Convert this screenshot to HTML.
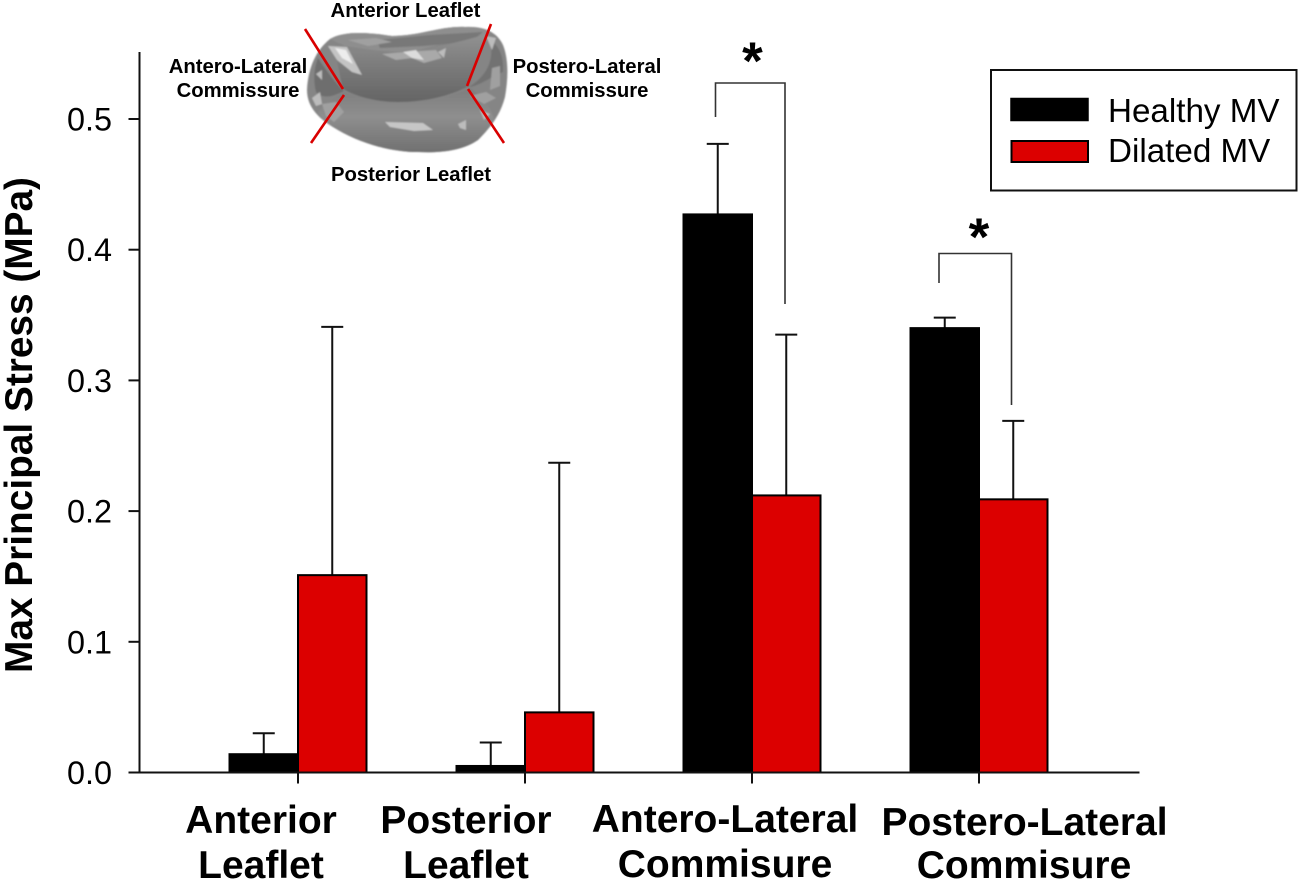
<!DOCTYPE html>
<html lang="en">
<head>
<meta charset="utf-8">
<title>Max Principal Stress by Mitral Valve Region</title>
<style>
  html, body { margin: 0; padding: 0; background: #fff; }
  svg { display: block; font-family: "Liberation Sans", Arial, sans-serif; }
  .cat { font-size: 39px; font-weight: bold; text-anchor: middle; fill: #000; }
  .inset { font-size: 20.3px; font-weight: bold; text-anchor: middle; fill: #000; }
  .legend-text { font-size: 33.2px; fill: #000; }
</style>
</head>
<body>
<svg id="chart" xmlns="http://www.w3.org/2000/svg" width="1306" height="883" viewBox="0 0 1306 883">
  <defs>
    <filter id="soft" x="-5%" y="-5%" width="110%" height="110%"><feGaussianBlur stdDeviation="0.8"/></filter>
    <linearGradient id="bowl" x1="0" y1="0" x2="0" y2="1">
      <stop offset="0" stop-color="#929292"/><stop offset="0.5" stop-color="#7a7a7a"/><stop offset="1" stop-color="#646464"/>
    </linearGradient>
    <linearGradient id="lower" x1="0" y1="0" x2="0" y2="1">
      <stop offset="0" stop-color="#7d7d7d"/><stop offset="0.45" stop-color="#8e8e8e"/><stop offset="1" stop-color="#707070"/>
    </linearGradient>
  </defs>

  <rect width="1306" height="883" fill="#fff"/>

  <g id="plot"></g>

  <text transform="translate(32,425) rotate(-90)" text-anchor="middle" font-size="38.8" font-weight="bold">Max Principal Stress (MPa)</text>

  <g>
    <text class="cat"><tspan x="261" y="833">Anterior</tspan><tspan x="261" y="878">Leaflet</tspan></text>
    <text class="cat"><tspan x="466" y="833">Posterior</tspan><tspan x="466" y="878">Leaflet</tspan></text>
    <text class="cat"><tspan x="725" y="832">Antero-Lateral</tspan><tspan x="725" y="877">Commisure</tspan></text>
    <text class="cat"><tspan x="1024.5" y="835">Postero-Lateral</tspan><tspan x="1024" y="878">Commisure</tspan></text>
  </g>

  <g>
    <g filter="url(#soft)">
      <path fill="#858585" d="M307 90 C308 68 316 50 330 39 C345 30 372 33 392 36 C420 36 440 26 465 27 C484 26 497 32 503 45 C509 60 508 80 505 97 C500 116 490 128 478 140 C462 151 440 153 418 152 C392 152 362 144 338 130 C320 120 307 108 307 90 Z"/>
      <path fill="#8e8e8e" d="M330 39 C345 30 372 33 392 36 C420 36 440 26 465 27 C478 27 486 29 491 34 C470 36 440 44 420 50 C395 54 370 50 345 46 Z"/>
      <path fill="#787878" d="M377 40 L430 35 L483 32 L470 42 L423 46 L380 48 Z"/>
      <path fill="url(#bowl)" d="M334 50 C360 50 395 56 420 50 C440 46 470 40 488 33 C480 50 474 68 469 86 C450 96 425 102 398 102 C375 102 355 96 343 89 C340 76 338 64 334 50 Z"/>
      <path fill="url(#lower)" d="M345 92 C360 98 380 103 400 103 C425 103 450 97 470 88 C482 96 492 108 494 120 C488 128 484 134 478 140 C462 151 440 153 418 152 C392 152 362 144 338 130 C328 124 320 118 318 112 C326 102 336 96 345 92 Z"/>
      <path fill="#6e6e6e" d="M318 58 C326 70 336 84 344 91 C334 96 324 100 316 92 C313 80 314 68 318 58 Z"/>
      <path fill="#727272" d="M490 40 C494 56 490 74 469 87 C480 86 492 76 503 72 C504 58 500 46 490 40 Z"/>
      <path fill="#c4c4c4" d="M328 46 L347 47 L362 75 L352 72 L337 60 Z"/>
      <path fill="#ededed" d="M335 48 L346 50 L353 64 L342 58 Z"/>
      <path fill="#a9a9a9" d="M382 54 L404 52 L436 50 L442 58 L424 63 L412 58 L396 60 Z"/>
      <path fill="#dcdcdc" d="M403 52 L416 50 L424 60 L412 58 Z"/>
      <path fill="#c6c6c6" d="M385 122 L423 123 L433 130 L414 131 L390 127 Z"/>
      <path fill="#bcbcbc" d="M458 124 L466 120 L466 130 L460 128 Z M480 110 L490 114 L484 120 Z M312 98 L320 92 L322 104 L316 106 Z M486 36 L496 38 L492 50 Z M438 52 L446 48 L444 58 Z M330 108 L336 104 L338 112 Z M316 74 L322 70 L322 80 Z"/>
      <path fill="#a0a0a0" d="M322 104 L336 102 L344 112 L334 122 L326 116 Z M470 96 L486 92 L496 98 L484 104 Z M348 40 L376 38 L392 42 L368 46 Z M492 68 L500 66 L500 86 L490 90 Z"/>
    </g>
    <g stroke="#d90000" stroke-width="2.6" fill="none">
      <line x1="305" y1="29" x2="343" y2="89"/>
      <line x1="344" y1="95" x2="311" y2="143"/>
      <line x1="491" y1="24" x2="467" y2="86"/>
      <line x1="468" y1="89" x2="504" y2="143"/>
    </g>
    <text class="inset" x="405.5" y="17">Anterior Leaflet</text>
    <text class="inset"><tspan x="238" y="73">Antero-Lateral</tspan><tspan x="238" y="97">Commissure</tspan></text>
    <text class="inset"><tspan x="587" y="73">Postero-Lateral</tspan><tspan x="587" y="97">Commissure</tspan></text>
    <text class="inset" x="411" y="181">Posterior Leaflet</text>
  </g>

  <g fill="none" stroke="#333" stroke-width="1.6">
    <path d="M715.5 117 V83 H785 V304"/>
    <path d="M939 283 V253.5 H1011.5 V405"/>
  </g>
  <text x="752.5" y="79" text-anchor="middle" font-size="53" font-weight="bold">*</text>
  <text x="979" y="255" text-anchor="middle" font-size="53" font-weight="bold">*</text>

  <g>
    <rect x="991" y="70" width="305.5" height="120.5" fill="#fff" stroke="#111" stroke-width="2"/>
    <rect x="1011" y="98.5" width="77" height="22" fill="#000" stroke="#000" stroke-width="1.5"/>
    <text class="legend-text" x="1108" y="122">Healthy MV</text>
    <rect x="1011.5" y="141" width="76.5" height="21" fill="#dc0000" stroke="#000" stroke-width="2"/>
    <text class="legend-text" x="1108" y="162">Dilated MV</text>
  </g>

  <script>
    const categories = ['Anterior Leaflet', 'Posterior Leaflet', 'Antero-Lateral Commisure', 'Postero-Lateral Commisure'];
    const healthyValues = [0.014, 0.005, 0.427, 0.340];
    const healthyErrorTops = [0.030, 0.023, 0.481, 0.348];
    const dilatedValues = [0.151, 0.046, 0.212, 0.209];
    const dilatedErrorTops = [0.341, 0.237, 0.335, 0.269];
    const yTicks = ['0.0', '0.1', '0.2', '0.3', '0.4', '0.5'];

    const plot = document.getElementById('plot');
    const NS = 'http://www.w3.org/2000/svg';

    function y(v) { return 772.5 - v * 1307; }
    function x(i) { return 298 + 227 * i; }

    function mk(tag, attrs, parent) {
      const el = document.createElementNS(NS, tag);
      for (const k in attrs) el.setAttribute(k, attrs[k]);
      parent.appendChild(el);
      return el;
    }

    const BAR_W = 68.5;
    const CAP = 11;

    function drawSeries(values, tops, fill, side, slug) {
      values.forEach(function (v, i) {
        const left = side < 0 ? x(i) - BAR_W : x(i);
        const mid = left + BAR_W / 2;
        const err = mk('path', {
          d: 'M' + mid + ' ' + y(v) + ' V' + y(tops[i]) + ' M' + (mid - CAP) + ' ' + y(tops[i]) + ' H' + (mid + CAP),
          fill: 'none', stroke: '#111', 'stroke-width': 2
        }, plot);
        
        
        const bar = mk('rect', {
          x: left, y: y(v), width: BAR_W, height: y(0) - y(v),
          fill: fill, stroke: '#000', 'stroke-width': 2
        }, plot);
        
        
      });
    }

    drawSeries(healthyValues, healthyErrorTops, '#000', -1, 'healthy');
    drawSeries(dilatedValues, dilatedErrorTops, '#dc0000', 1, 'dilated');

    const yAxisLine = mk('line', { x1: 139.5, x2: 139.5, y1: 52, y2: y(0) + 1, stroke: '#111', 'stroke-width': 2 }, plot);
    
    

    const xAxisLine = mk('line', { x1: 138.5, x2: 1139.5, y1: y(0), y2: y(0), stroke: '#111', 'stroke-width': 2 }, plot);
    
    

    yTicks.forEach(function (t) {
      const v = parseFloat(t);
      const tick = mk('line', { x1: 128.5, x2: 139.5, y1: y(v), y2: y(v), stroke: '#111', 'stroke-width': 2 }, plot);
      
      
      const label = mk('text', { x: 112, y: y(v) + 11.5, 'text-anchor': 'end', 'font-size': 32.4, fill: '#000' }, plot);
      
      
      label.textContent = t;
    });

    categories.forEach(function (c, i) {
      const tick = mk('line', { x1: x(i), x2: x(i), y1: y(0), y2: y(0) + 11, stroke: '#111', 'stroke-width': 2 }, plot);
      
      
    });
  </script>
</svg>
</body>
</html>
